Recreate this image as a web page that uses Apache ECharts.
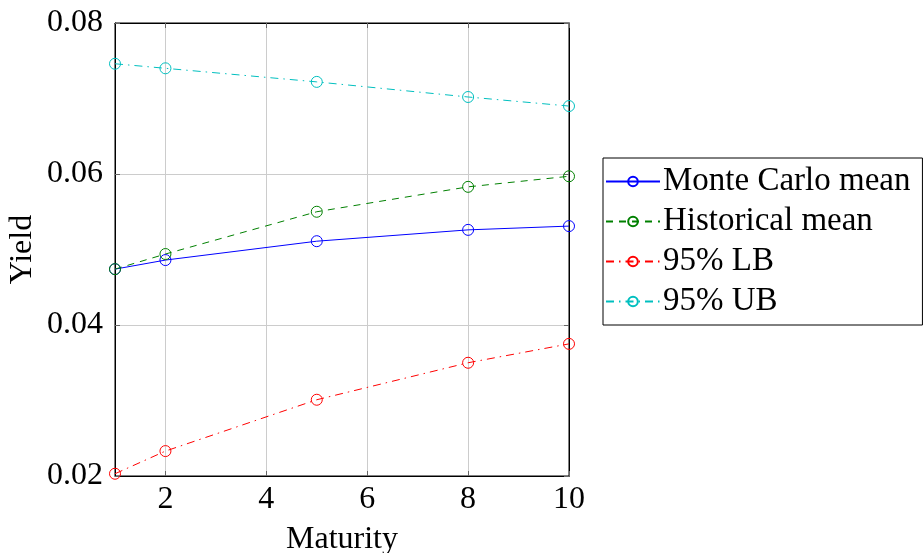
<!DOCTYPE html>
<html>
<head>
<meta charset="utf-8">
<script src="https://cdn.jsdelivr.net/npm/echarts@6/dist/echarts.min.js"></script>
<style>
html, body { margin: 0; padding: 0; background: #fff; }
#chart { width: 923px; height: 553px; }
</style>
</head>
<body>
<div id="chart"></div>
<script>
// maturities (years) and yields
var maturities = [1, 2, 5, 8, 10];
var mcMean = [0.0474, 0.0486, 0.0511, 0.0526, 0.0531];
var histMean = [0.0474, 0.0494, 0.0550, 0.0583, 0.0597];
var lb95 = [0.0203, 0.0233, 0.0301, 0.0350, 0.0375];
var ub95 = [0.0746, 0.0740, 0.0722, 0.0702, 0.0690];
var xTicks = [2, 4, 6, 8, 10];

var font = '"Liberation Serif", "DejaVu Serif", serif';

function pairs(vals) {
	return maturities.map(function (m, i) { return [m, vals[i]]; });
}

function line(name, vals, color, dash) {
	return {
		name: name,
		type: 'line',
		data: pairs(vals),
		symbol: 'circle',
		symbolSize: 11,
		itemStyle: { color: 'transparent', borderColor: color, borderWidth: 1 },
		lineStyle: { color: color, width: 1, type: dash },
		emphasis: { disabled: true },
		z: 3
	};
}

var chart = echarts.init(document.getElementById('chart'), null, { renderer: 'canvas' });
chart.setOption({
	animation: false,
	textStyle: { fontFamily: font, color: '#000' },
	grid: {
		left: 115, right: 354, top: 23, bottom: 77,
		outerBoundsMode: 'none', containLabel: false,
		show: true, borderColor: '#000', borderWidth: 1, backgroundColor: 'transparent'
	},
	legend: {
		orient: 'vertical',
		left: 603,
		top: 158,
		padding: [7, 12, 7, 2],
		itemGap: 7,
		itemWidth: 54,
		itemHeight: 12,
		borderColor: '#000',
		borderWidth: 1,
		borderRadius: 0,
		backgroundColor: '#fff',
		textStyle: { fontFamily: font, fontSize: 33, color: '#000', padding: [0, 0, 0, -2] },
		data: ['Monte Carlo mean', 'Historical mean', '95% LB', '95% UB']
	},
	xAxis: [{
		type: 'value',
		min: 1,
		max: 10,
		name: 'Maturity',
		nameLocation: 'middle',
		nameGap: 48,
		nameTextStyle: { fontFamily: font, fontSize: 32, color: '#000' },
		axisLine: { show: true, lineStyle: { color: '#000', width: 1 } },
		axisTick: { inside: true, length: 5, customValues: xTicks, lineStyle: { color: '#666' } },
		axisLabel: { customValues: xTicks, fontFamily: font, fontSize: 32, color: '#000', margin: 8 },
		splitLine: { show: true, lineStyle: { color: '#cccccc', width: 1 } }
	}, {
		type: 'value',
		position: 'top',
		min: 1,
		max: 10,
		axisLine: { show: true, lineStyle: { color: '#000', width: 1 } },
		axisTick: { inside: true, length: 5, customValues: xTicks, lineStyle: { color: '#666' } },
		axisLabel: { show: false },
		splitLine: { show: false }
	}],
	yAxis: [{
		type: 'value',
		min: 0.02,
		max: 0.08,
		interval: 0.02,
		name: 'Yield',
		nameLocation: 'middle',
		nameGap: 76,
		nameTextStyle: { fontFamily: font, fontSize: 32, color: '#000' },
		axisLine: { show: true, lineStyle: { color: '#000', width: 1 } },
		axisTick: { inside: true, length: 5, lineStyle: { color: '#666' } },
		axisLabel: { fontFamily: font, fontSize: 32, color: '#000', margin: 12 },
		splitLine: { show: true, lineStyle: { color: '#cccccc', width: 1 } }
	}, {
		type: 'value',
		position: 'right',
		min: 0.02,
		max: 0.08,
		interval: 0.02,
		axisLine: { show: true, lineStyle: { color: '#000', width: 1 } },
		axisTick: { inside: true, length: 5, lineStyle: { color: '#666' } },
		axisLabel: { show: false },
		splitLine: { show: false }
	}],
	series: [
		line('Monte Carlo mean', mcMean, '#0000ff', 'solid'),
		line('Historical mean', histMean, '#008000', [7, 6]),
		line('95% LB', lb95, '#ff0000', [8, 5, 1.5, 5]),
		line('95% UB', ub95, '#00bfbf', [8, 5, 1.5, 5])
	]
});
</script>
</body>
</html>
